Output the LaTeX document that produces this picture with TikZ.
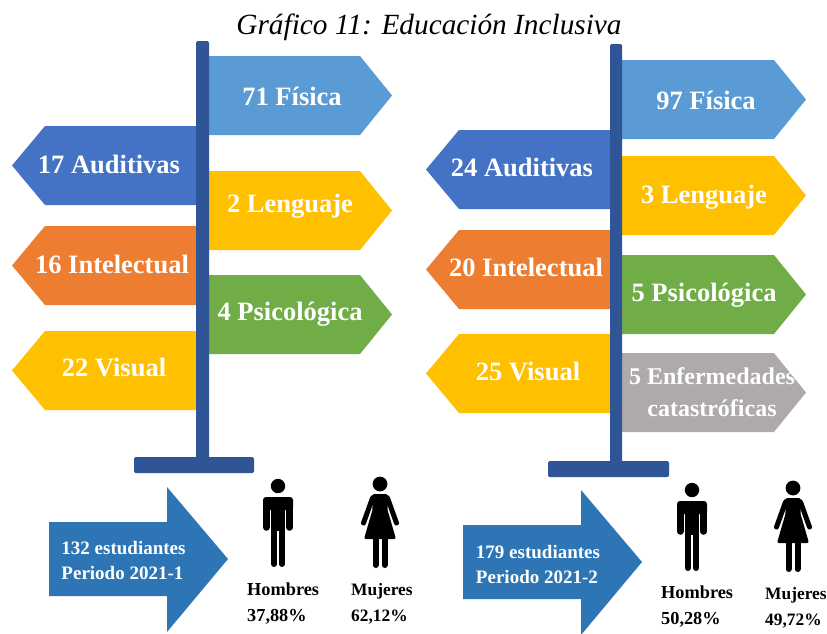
\documentclass[tikz,border=0pt]{standalone}
\usepackage{fontspec}
\setmainfont{Liberation Serif}
\definecolor{postblue}{HTML}{2F5597}
\definecolor{sky}{HTML}{5B9BD5}
\definecolor{royal}{HTML}{4472C4}
\definecolor{amber}{HTML}{FFC000}
\definecolor{orangeb}{HTML}{ED7D31}
\definecolor{leaf}{HTML}{70AD47}
\definecolor{greyb}{HTML}{AEAAAA}
\definecolor{arrowblue}{HTML}{2E75B6}
\tikzset{
  signtext/.style={text=white,font=\bfseries\fontsize{26.5}{29}\selectfont,align=center,inner sep=0pt},
  small/.style={text=white,font=\bfseries\fontsize{19}{25}\selectfont,align=left,inner sep=0pt},
  pct/.style={text=black,font=\bfseries\fontsize{18.3}{26}\selectfont,align=left,inner sep=0pt,anchor=west},
  pctw/.style={pct,font=\bfseries\fontsize{17.4}{26}\selectfont},
  limb/.style={black,line cap=round},
}
\newcommand{\rsign}[3]{\fill[#1] (#2,#3) -- ++(152,0) -- ++(32,39.5) -- ++(-32,39.5) -- ++(-152,0) -- cycle;}
\newcommand{\lsign}[3]{\fill[#1] (#2,#3) -- ++(-152,0) -- ++(-33,39.5) -- ++(33,39.5) -- ++(152,0) -- cycle;}
\newcommand{\bigarrow}[2]{\fill[arrowblue] (#1,#2+35) -- ++(118,0) -- ++(0,-35) -- ++(61,72) -- ++(-61,73) -- ++(0,-36) -- ++(-118,0) -- cycle;}
\newcommand{\mansym}[2]{\begin{scope}[shift={(#1,#2)}]
  \fill[black] (0,0) circle (7.2);
  \fill[black,rounded corners=3] (-15,11) rectangle (15,24);
  \fill[black] (-7,14) rectangle (7,45);
  \draw[limb,line width=6.5] (-11.7,16) -- (-11.7,41.5);
  \draw[limb,line width=6.5] (11.7,16) -- (11.7,41.5);
  \draw[limb,line width=6] (-4,42) -- (-4,78);
  \draw[limb,line width=6] (4,42) -- (4,78);
\end{scope}}
\newcommand{\womansym}[2]{\begin{scope}[shift={(#1,#2)}]
  \fill[black] (0,0) circle (7.4);
  \fill[black,rounded corners=2] (-8,10) -- (8,10) -- (9,16) -- (7,24) -- (16,55) -- (-16,55) -- (-7,24) -- (-9,16) -- cycle;
  \draw[limb,line width=5] (-7.5,14) -- (-16.5,39);
  \draw[limb,line width=5] (7.5,14) -- (16.5,39);
  \draw[limb,line width=6] (-4.5,52) -- (-4.5,81);
  \draw[limb,line width=6] (4.5,52) -- (4.5,81);
\end{scope}}
\begin{document}
\begin{tikzpicture}[x=1pt,y=-1pt]
\useasboundingbox (0,0) rectangle (827,633);
\node[font=\itshape\fontsize{29.3}{32}\selectfont,inner sep=0pt] (title) at (429,27) {Gráfico 11: Educación Inclusiva};
% Left panel
\rsign{sky}{208}{56}
\lsign{royal}{197}{126}
\rsign{amber}{208}{171}
\lsign{orangeb}{197}{226}
\rsign{leaf}{208}{275}
\lsign{amber}{197}{331}
\fill[postblue,rounded corners=1.5] (196,41) rectangle (209,460);
\fill[postblue,rounded corners=1.5] (134,457) rectangle (254,473);
\node[signtext] (a1) at (292,96) {71 Física};
\node[signtext] (a2) at (109,164) {17 Auditivas};
\node[signtext] (a3) at (290,206) {2 Lenguaje};
\node[signtext] (a4) at (112,264) {16 Intelectual};
\node[signtext] (a5) at (290,314) {4 Psicológica};
\node[signtext] (a6) at (114,367) {22 Visual};
% Right panel
\rsign{sky}{622}{60}
\lsign{royal}{611}{130}
\rsign{amber}{622}{156}
\lsign{orangeb}{611}{230}
\rsign{leaf}{622}{255}
\lsign{amber}{611}{334}
\rsign{greyb}{622}{353}
\fill[postblue,rounded corners=1.5] (610,44) rectangle (622,463);
\fill[postblue,rounded corners=1.5] (548,461) rectangle (669,477);
\node[signtext] (b1) at (706,100) {97 Física};
\node[signtext] (b2) at (522,167) {24 Auditivas};
\node[signtext] (b3) at (704,197) {3 Lenguaje};
\node[signtext] (b4) at (526,267) {20 Intelectual};
\node[signtext] (b5) at (704,295) {5 Psicológica};
\node[signtext] (b6) at (528,371) {25 Visual};
\node[signtext,font=\bfseries\fontsize{24}{32}\selectfont] (b7) at (712,392) {5 Enfermedades\\catastróficas};
% Arrows
\bigarrow{49}{487}
\bigarrow{463}{490}
\node[small] (c1) at (123.5,560) {132 estudiantes\\Periodo 2021-1};
\node[small] (c2) at (538,564) {179 estudiantes\\Periodo 2021-2};
% Figures
\mansym{278}{486}
\womansym{380}{484}
\mansym{692}{490}
\womansym{793}{488}
\node[pct] (h1) at (247,604) {Hombres\\37,88\%};
\node[pctw] (m1) at (351,604) {Mujeres\\62,12\%};
\node[pct] (h2) at (661,607) {Hombres\\50,28\%};
\node[pctw] (m2) at (765,608) {Mujeres\\49,72\%};
\end{tikzpicture}
\end{document}
